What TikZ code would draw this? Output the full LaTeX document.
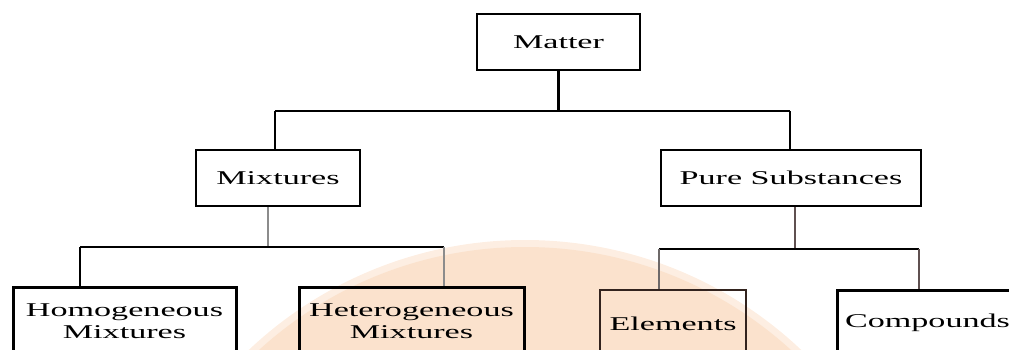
\documentclass[tikz,border=0pt]{standalone}
\usepackage{fontspec}
\setmainfont{Liberation Serif}
\usepackage{graphicx}
\newcommand{\wt}[1]{\scalebox{1.75}[1]{#1}}
\definecolor{peach}{RGB}{251,226,205}
\definecolor{peachsoft}{RGB}{253,238,226}
\definecolor{stemgray}{RGB}{140,140,140}
\definecolor{stembrown}{RGB}{95,80,80}
\definecolor{dropgray}{RGB}{110,105,105}
\definecolor{eleborder}{RGB}{50,35,30}
\begin{document}
\begin{tikzpicture}[x=1pt,y=-1pt,
  box/.style={draw=black, line width=2.5pt, rectangle, inner sep=0pt,
    font=\fontsize{19.5}{22}\selectfont, align=center, text=black},
  lowbox/.style={box, line width=3pt, anchor=north},
  mainline/.style={draw=black, line width=2.5pt},
  thinline/.style={line width=2pt}]
\useasboundingbox (0,0) rectangle (1009,349);
\begin{scope}
\clip (0,0) rectangle (1009,349);
% watermark
\fill[peachsoft] (525,642) circle (402pt);
\fill[peach] (525,642) circle (395pt);

% nodes
\node[box, minimum width=163pt, minimum height=56pt] (matter) at (558.5,42) {\wt{Matter}};
\node[box, line width=2.2pt, minimum width=164pt, minimum height=56pt] (mix) at (278,178) {\wt{Mixtures}};
\node[box, line width=2.2pt, minimum width=260pt, minimum height=56pt] (pure) at (791,178) {\wt{Pure Substances}};
\node[lowbox, minimum width=223pt, minimum height=68pt] (hom) at (124.5,286) {\wt{Homogeneous}\\\wt{Mixtures}};
\node[lowbox, minimum width=225pt, minimum height=68pt] (het) at (411.5,286) {\wt{Heterogeneous}\\\wt{Mixtures}};
\node[lowbox, draw=eleborder, line width=2.4pt, minimum width=146pt, minimum height=68pt] (ele) at (673,289) {\wt{Elements}};
\node[lowbox, minimum width=181pt, minimum height=64pt] (com) at (927.5,289) {\wt{Compounds}};

% junction coordinates
\coordinate (b1L) at (275,111);
\coordinate (b1R) at (790,111);
\coordinate (s2) at (268,247);
\coordinate (b2L) at (80,247);
\coordinate (b2R) at (444,247);
\coordinate (s3) at (795,249);
\coordinate (b3L) at (659,249);
\coordinate (b3R) at (919,249);

% level 1
\draw[mainline] (matter.south) -- (matter.south |- b1L);
\draw[mainline] (b1L) -- (b1R);
\draw[mainline] (b1L) -- (b1L |- mix.north);
\draw[mainline] (b1R) -- (b1R |- pure.north);

% mixtures branch
\draw[thinline, stemgray] (mix.south -| s2) -- (s2);
\draw[mainline] (b2L) -- (b2R);
\draw[mainline] (b2L) -- (b2L |- hom.north);
\draw[thinline, stemgray] (b2R) -- (b2R |- het.north);

% pure substances branch
\draw[thinline, stembrown] (pure.south -| s3) -- (s3);
\draw[mainline] (b3L) -- (b3R);
\draw[thinline, dropgray] (b3L) -- (b3L |- ele.north);
\draw[thinline, stembrown] (b3R) -- (b3R |- com.north);
\end{scope}
\end{tikzpicture}
\end{document}
